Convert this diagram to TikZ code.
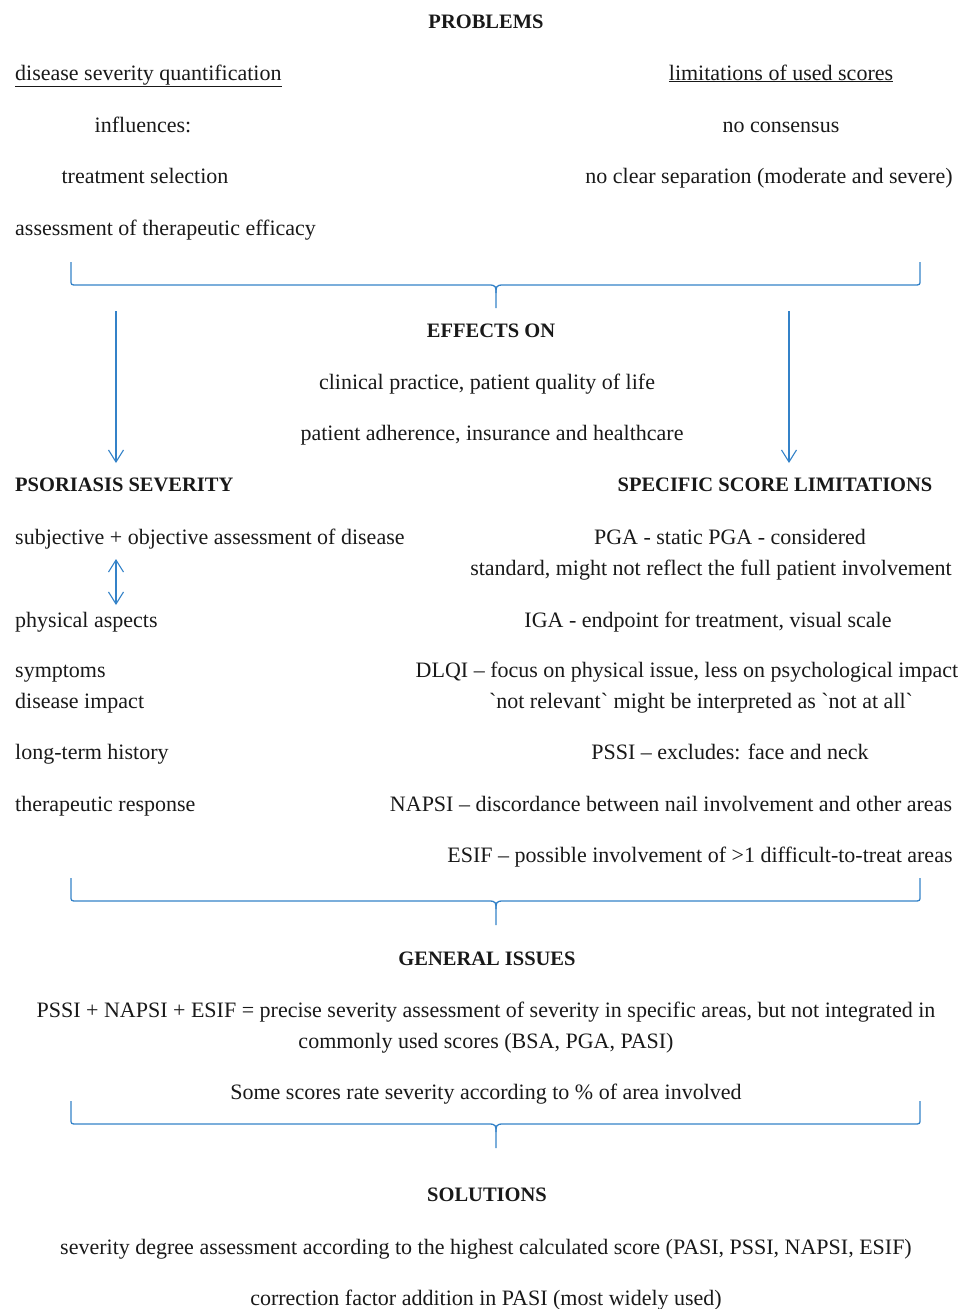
\documentclass[tikz,border=0pt]{standalone}
\usepackage{fontspec}
\setmainfont{Liberation Serif}
\usetikzlibrary{arrows.meta}
\definecolor{lineblue}{RGB}{52,130,200}
\definecolor{txt}{RGB}{25,25,25}
\tikzset{
  txtc/.style={anchor=base, inner sep=0pt, text=txt, font=\fontsize{22}{26}\selectfont},
  txtl/.style={txtc, anchor=base west},
  headc/.style={anchor=base, inner sep=0pt, text=txt, font=\fontsize{20.5}{24}\selectfont\bfseries},
  headl/.style={headc, anchor=base west},
  bracepath/.style={draw=lineblue, line width=1.3pt},
  arr/.style={draw=lineblue, line width=1.1pt, -{Straight Barb[length=12pt,width=15pt]}},
  darr/.style={draw=lineblue, line width=1.1pt, {Straight Barb[length=12pt,width=15pt]}-{Straight Barb[length=12pt,width=15pt]}}
}
\newcommand{\wordbrace}[3]{% y top, y mid, y bottom
  \draw[bracepath] (71,#1) -- (71,#2-5) .. controls (71,#2) .. (77,#2) -- (489,#2) .. controls (496,#2) and (496,#2+2) .. (496,#2+8) -- (496,#3);
  \draw[bracepath] (920,#1) -- (920,#2-5) .. controls (920,#2) .. (914,#2) -- (503,#2) .. controls (496,#2) and (496,#2+2) .. (496,#2+8);
}
\begin{document}
\begin{tikzpicture}[x=1pt,y=-1pt]
\useasboundingbox (0,0) rectangle (966,1309);

% PROBLEMS section
\node[headc] (problems) at (486,28) {PROBLEMS};
\node[txtl] (dsq) at (15,80) {\underline{disease severity quantification}};
\node[txtc] (lus) at (781,80) {\underline{limitations of used scores}};
\node[txtc] (infl) at (143,132) {influences:};
\node[txtc] (nocons) at (781,132) {no consensus};
\node[txtc] (treat) at (145,183) {treatment selection};
\node[txtc] (nosep) at (769,183) {no clear separation (moderate and severe)};
\node[txtl] (assess) at (15,235) {assessment of therapeutic efficacy};

\wordbrace{262}{285}{308}

% EFFECTS ON
\node[headc] (effects) at (491,337) {EFFECTS ON};
\node[txtc] (clin) at (487,389) {clinical practice, patient quality of life};
\node[txtc] (adher) at (492,440) {patient adherence, insurance and healthcare};

\coordinate (la1) at (116,311);
\coordinate (la2) at (116,463);
\coordinate (ra1) at (789,311);
\coordinate (ra2) at (789,463);
\draw[arr] (la1) -- (la2);
\draw[arr] (ra1) -- (ra2);

% Psoriasis severity
\node[headl] (psev) at (15,491) {PSORIASIS SEVERITY};
\node[headc] (ssl) at (775,491) {SPECIFIC SCORE LIMITATIONS};
\node[txtl] (subj) at (15,544) {subjective + objective assessment of disease};
\node[txtl] (phys) at (15,627) {physical aspects};
\coordinate (da1) at (116,559);
\coordinate (da2) at (116,605);
\draw[darr] (da1) -- (da2);
\node[txtl] (sympt) at (15,677) {symptoms};
\node[txtl] (dimp) at (15,708) {disease impact};
\node[txtl] (lth) at (15,759) {long-term history};
\node[txtl] (tresp) at (15,811) {therapeutic response};

\node[txtc] (pga) at (730,544) {PGA - static PGA - considered};
\node[txtc] (std) at (711,575) {standard, might not reflect the full patient involvement};
\node[txtc] (iga) at (708,627) {IGA - endpoint for treatment, visual scale};
\node[txtc] (dlqi) at (687,677) {DLQI -- focus on physical issue, less on psychological impact};
\node[txtc] (notrel) at (701,708) {\textasciigrave not relevant\textasciigrave{} might be interpreted as \textasciigrave not at all\textasciigrave};
\node[txtc] (pssi) at (730,759) {PSSI -- excludes: face and neck};
\node[txtc] (napsi) at (671,811) {NAPSI -- discordance between nail involvement and other areas};
\node[txtc] (esif) at (700,862) {ESIF -- possible involvement of >1 difficult-to-treat areas};

\wordbrace{878}{901}{925}

% GENERAL ISSUES
\node[headc] (gen) at (487,965) {GENERAL ISSUES};
\node[txtc] (pne) at (486,1017) {PSSI + NAPSI + ESIF = precise severity assessment of severity in specific areas, but not integrated in};
\node[txtc] (cus) at (486,1048) {commonly used scores (BSA, PGA, PASI)};
\node[txtc] (some) at (486,1099) {Some scores rate severity according to \% of area involved};

\wordbrace{1101}{1124}{1148}

% SOLUTIONS
\node[headc] (sol) at (487,1201) {SOLUTIONS};
\node[txtc] (sdeg) at (486,1254) {severity degree assessment according to the highest calculated score (PASI, PSSI, NAPSI, ESIF)};
\node[txtc] (corr) at (486,1305) {correction factor addition in PASI (most widely used)};
\end{tikzpicture}
\end{document}
